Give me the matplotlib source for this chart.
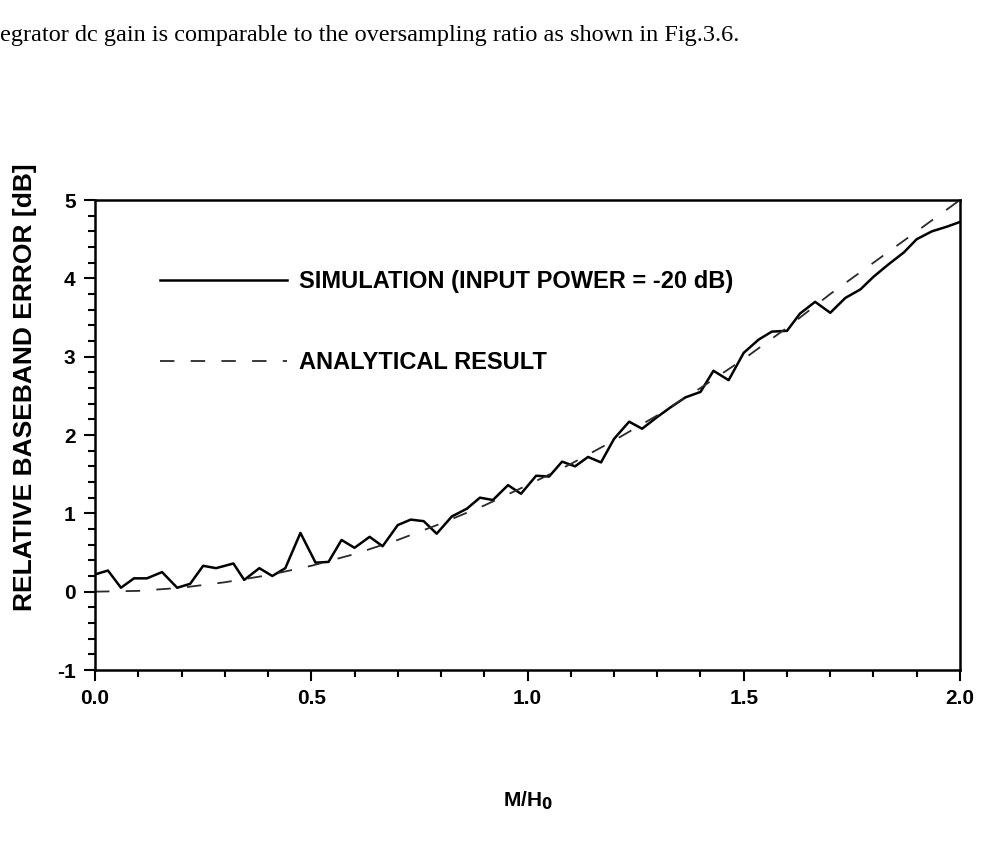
import matplotlib
matplotlib.use("Agg")
import matplotlib.pyplot as plt
from matplotlib.ticker import MultipleLocator, FormatStrFormatter

# Simulation curve (input power = -20 dB)
sim_x = [0.00, 0.03, 0.06, 0.09, 0.12, 0.155, 0.19, 0.22, 0.25, 0.28,
         0.32, 0.345, 0.38, 0.41, 0.44, 0.475, 0.51, 0.54, 0.57, 0.60,
         0.635, 0.665, 0.70, 0.73, 0.76, 0.79, 0.825, 0.86, 0.89, 0.92,
         0.955, 0.985, 1.02, 1.05, 1.08, 1.11, 1.14, 1.17, 1.20, 1.235,
         1.265, 1.30, 1.33, 1.365, 1.40, 1.43, 1.465, 1.50, 1.535, 1.565,
         1.60, 1.63, 1.665, 1.70, 1.735, 1.77, 1.80, 1.835, 1.87, 1.90,
         1.935, 1.97, 2.00]
sim_y = [0.22, 0.27, 0.05, 0.17, 0.17, 0.25, 0.05, 0.10, 0.33, 0.30,
         0.36, 0.15, 0.30, 0.20, 0.30, 0.75, 0.37, 0.38, 0.66, 0.56,
         0.70, 0.58, 0.85, 0.92, 0.90, 0.74, 0.96, 1.06, 1.20, 1.17,
         1.36, 1.25, 1.48, 1.47, 1.66, 1.60, 1.72, 1.65, 1.95, 2.17,
         2.08, 2.23, 2.35, 2.48, 2.55, 2.82, 2.70, 3.05, 3.22, 3.32,
         3.33, 3.55, 3.70, 3.56, 3.75, 3.86, 4.02, 4.18, 4.33, 4.50,
         4.60, 4.66, 4.72]

# Analytical result
ana_x = [0.0, 0.1, 0.2, 0.3, 0.4, 0.5, 0.6, 0.7, 0.8, 0.9, 1.0,
         1.1, 1.2, 1.3, 1.4, 1.5, 1.6, 1.7, 1.8, 1.9, 2.0]
ana_y = [0.0, 0.01, 0.05, 0.12, 0.21, 0.33, 0.48, 0.66, 0.87, 1.10, 1.36,
         1.63, 1.93, 2.25, 2.60, 2.97, 3.37, 3.80, 4.20, 4.60, 5.00]

sans = ["Liberation Sans", "DejaVu Sans"]
plt.rcParams["axes.unicode_minus"] = False

fig = plt.figure(figsize=(9.85, 8.63), dpi=100)
fig.text(0.0, 1 - 36 / 863, "egrator dc gain is comparable to the oversampling ratio as shown in Fig.3.6.",
         family="Liberation Serif", fontsize=17.5, ha="left", va="center")

ax = fig.add_axes([95 / 985, 1 - 670 / 863, 865 / 985, 470 / 863])
ax.plot(sim_x, sim_y, color="black", lw=1.8, label="SIMULATION (INPUT POWER = -20 dB)")
ax.plot(ana_x, ana_y, color="#2a2a2a", lw=1.3, linestyle=(0, (8, 9)), label="ANALYTICAL RESULT")

ax.set_xlim(0, 2.0)
ax.set_ylim(-1, 5)
ax.xaxis.set_major_locator(MultipleLocator(0.5))
ax.xaxis.set_minor_locator(MultipleLocator(0.1))
ax.yaxis.set_major_locator(MultipleLocator(1))
ax.yaxis.set_minor_locator(MultipleLocator(0.2))
ax.xaxis.set_major_formatter(FormatStrFormatter("%.1f"))
ax.tick_params(which="both", direction="out", width=1.5, top=False, right=False)
ax.tick_params(which="major", length=8, pad=6)
ax.tick_params(which="minor", length=5)
for lab in ax.get_xticklabels() + ax.get_yticklabels():
    lab.set_family(sans)
    lab.set_fontweight("bold")
    lab.set_fontsize(15)
for s in ax.spines.values():
    s.set_linewidth(1.8)

ax.set_xlabel("M/H$_\\mathbf{0}$", family=sans, fontweight="bold", fontsize=15, labelpad=58)
fig.text(25 / 985, 1 - 387 / 863, "RELATIVE BASEBAND ERROR [dB]", family=sans,
         fontweight="bold", fontsize=19, rotation=90, ha="center", va="center")

ax.legend(loc="upper left", bbox_to_anchor=(0.075, 0.851), frameon=False,
          prop={"family": sans, "weight": "bold", "size": 17},
          handlelength=5.4, handletextpad=0.5, labelspacing=2.45,
          borderpad=0, borderaxespad=0)

fig.savefig("out.png", dpi=100)
